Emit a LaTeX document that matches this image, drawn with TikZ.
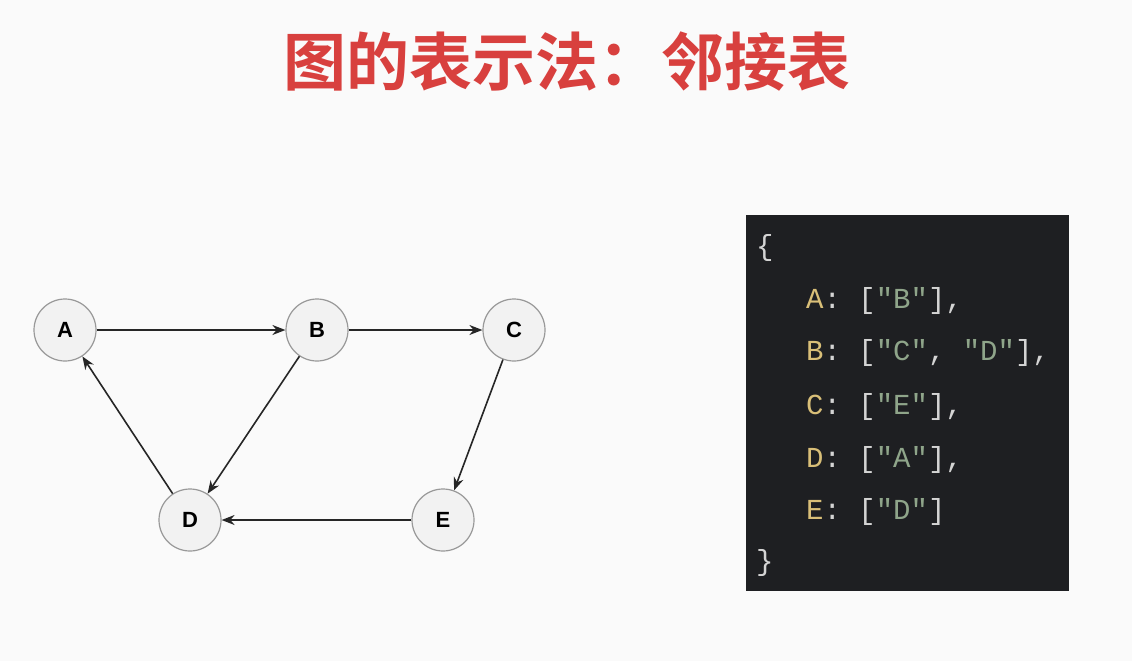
\documentclass[tikz,border=0pt]{standalone}
\usepackage{fontspec}
\setmainfont{Liberation Sans}
\newfontfamily\cjk{Noto Sans CJK SC}[BoldFont={* Bold}]
\newfontfamily\codefont{Liberation Mono}
\usetikzlibrary{arrows.meta}
\definecolor{titlered}{HTML}{D8403E}
\definecolor{codebg}{HTML}{1E1F22}
\definecolor{keyc}{HTML}{D9BF78}
\definecolor{strc}{HTML}{8FA58A}
\definecolor{punc}{HTML}{D4D4D4}
\definecolor{nodefill}{HTML}{F2F2F2}
\definecolor{nodeline}{HTML}{999999}
\newcommand{\ky}[1]{\textcolor{keyc}{#1}}
\newcommand{\sv}[1]{\textcolor{strc}{#1}}
\begin{document}
\begin{tikzpicture}[x=1pt,y=-1pt,
  vtx/.style={circle,draw=nodeline,fill=nodefill,line width=1.2pt,minimum size=62pt,inner sep=0pt,font=\bfseries\fontsize{22}{22}\selectfont},
  edge/.style={-{Stealth[length=13pt,width=10pt]},line width=1.6pt,black!85},
  codeline/.style={anchor=west,inner sep=0pt,text=punc,font=\codefont\fontsize{29}{29}\selectfont}]
\useasboundingbox (0,0) rectangle (1132,661);
\fill[white!98!black] (0,0) rectangle (1132,661);
\node[text=titlered,font=\cjk\bfseries\fontsize{63}{63}\selectfont] (title) at (567,62) {图的表示法：邻接表};
\node[vtx] (A) at (65,330) {A};
\node[vtx] (B) at (317,330) {B};
\node[vtx] (C) at (514,330) {C};
\node[vtx] (D) at (190,520) {D};
\node[vtx] (E) at (443,520) {E};
\draw[edge] (A) -- (B);
\draw[edge] (B) -- (C);
\draw[edge] (B) -- (D);
\draw[edge] (C) -- (E);
\draw[edge] (E) -- (D);
\draw[edge] (D) -- (A);
\fill[codebg] (746,215) rectangle (1069,591);
\node[codeline] (l0) at (756,248) {\{};
\node[codeline] (l1) at (806,301) {\ky{A}: [\sv{"B"}],};
\node[codeline] (l2) at (806,353) {\ky{B}: [\sv{"C"}, \sv{"D"}],};
\node[codeline] (l3) at (806,407) {\ky{C}: [\sv{"E"}],};
\node[codeline] (l4) at (806,460) {\ky{D}: [\sv{"A"}],};
\node[codeline] (l5) at (806,512) {\ky{E}: [\sv{"D"}]};
\node[codeline] (l6) at (756,563) {\}};
\end{tikzpicture}
\end{document}
